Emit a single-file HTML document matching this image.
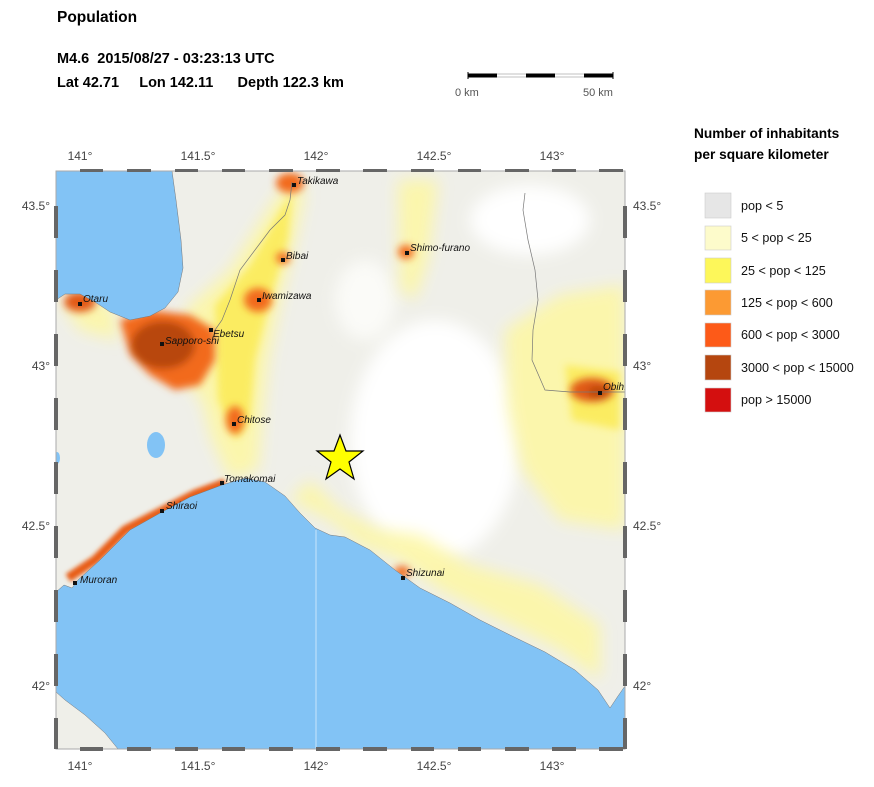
<!DOCTYPE html>
<html><head><meta charset="utf-8"><style>
body{margin:0;background:#fff;width:874px;height:782px;overflow:hidden;font-family:"Liberation Sans",sans-serif}
</style></head><body>
<svg width="874" height="782" viewBox="0 0 874 782" xmlns="http://www.w3.org/2000/svg" font-family="Liberation Sans, sans-serif">
<defs>
<filter id="b4" x="-50%" y="-50%" width="200%" height="200%"><feGaussianBlur stdDeviation="4"/></filter>
<filter id="b8" x="-50%" y="-50%" width="200%" height="200%"><feGaussianBlur stdDeviation="8"/></filter>
<filter id="b2" x="-50%" y="-50%" width="200%" height="200%"><feGaussianBlur stdDeviation="2"/></filter>
<clipPath id="mc"><rect x="56" y="171" width="569" height="578"/></clipPath>
</defs>
<text x="57" y="22" font-size="15.5" font-weight="bold">Population</text>
<text x="57" y="63" font-size="14.5" font-weight="bold" xml:space="preserve">M4.6  2015/08/27 - 03:23:13 UTC</text>
<text x="57" y="87" font-size="14.5" font-weight="bold" xml:space="preserve">Lat 42.71     Lon 142.11      Depth 122.3 km</text>
<g>
<rect x="468" y="74" width="145" height="3" fill="#fff" stroke="#999" stroke-width="0.6"/>
<rect x="468" y="73.5" width="29" height="4" fill="#000"/>
<rect x="526" y="73.5" width="29" height="4" fill="#000"/>
<rect x="584" y="73.5" width="29" height="4" fill="#000"/>
<line x1="468" y1="72" x2="468" y2="79" stroke="#000"/><line x1="613" y1="72" x2="613" y2="79" stroke="#000"/>
<text x="455" y="96" font-size="11" fill="#555">0 km</text>
<text x="583" y="96" font-size="11" fill="#555">50 km</text>
</g>
<g clip-path="url(#mc)">
<rect x="56" y="171" width="569" height="578" fill="#efefe9"/>
<g filter="url(#b8)">
<ellipse cx="435" cy="440" rx="85" ry="120" fill="#fff"/>
<ellipse cx="365" cy="300" rx="30" ry="40" fill="#fbfbf8"/>
<ellipse cx="530" cy="220" rx="60" ry="35" fill="#fff"/>
</g>
<g filter="url(#b8)" fill="#fdf7a6" opacity="0.9">
<path d="M185 310 L230 270 L265 215 L288 180 L305 190 L295 240 L280 300 L268 360 L262 420 L258 470 L230 480 L212 440 L202 400 L185 380 Z"/>
<path d="M398 180 L438 180 L428 260 L415 300 L400 290 Z"/>
<path d="M505 330 L560 295 L625 285 L625 530 L560 520 L522 470 L508 410 Z"/>
<path d="M290 500 L330 520 L360 545 L400 560 L440 590 L500 620 L560 650 L600 680 L600 625 L540 585 L470 565 L420 535 L380 530 L340 510 L310 480 Z"/>
<path d="M60 300 L110 300 L120 340 L80 330 Z"/>
</g>
<g filter="url(#b4)" fill="#fbe94a" opacity="0.75">
<path d="M215 305 L250 265 L278 215 L292 192 L288 240 L270 300 L255 360 L250 420 L236 440 L218 400 Z"/>
<path d="M565 365 L620 372 L620 430 L572 420 Z"/>
</g>
<g filter="url(#b4)">
<path d="M120 320 L150 310 L190 315 L215 330 L215 360 L200 385 L175 390 L150 375 L130 355 Z" fill="#f26b1e"/>
<ellipse cx="163" cy="345" rx="32" ry="24" fill="#b8470f"/>
<ellipse cx="258" cy="300" rx="14" ry="12" fill="#f26b1e"/>
<ellipse cx="235" cy="420" rx="9" ry="14" fill="#f26b1e"/>
<ellipse cx="290" cy="183" rx="14" ry="10" fill="#f26b1e"/>
<ellipse cx="283" cy="258" rx="7" ry="6" fill="#f26b1e"/>
<ellipse cx="80" cy="302" rx="16" ry="10" fill="#e35a17"/>
<ellipse cx="406" cy="252" rx="8" ry="7" fill="#f26b1e"/>
<ellipse cx="592" cy="390" rx="22" ry="12" fill="#e05a16"/>
<ellipse cx="598" cy="392" rx="10" ry="6" fill="#b8470f"/>
<ellipse cx="402" cy="572" rx="8" ry="6" fill="#f26b1e"/>
</g>
<g filter="url(#b2)" fill="none" stroke="#e85d18" stroke-width="9">
<path d="M68 578 L95 560 L125 530 L160 512 L195 494 L225 483"/>
</g>
<path d="M56 171 L172 171 L176 200 L181 240 L183 268 L178 292 L165 308 L150 316 L130 320 L110 312 L95 302 L80 294 L65 294 L56 300 Z" fill="#82c3f5" stroke="#777" stroke-width="0.5"/>
<path d="M56 592 L64 585 L72 588 L78 580 L100 560 L130 530 L162 512 L190 497 L222 485 L245 478 L265 482 L285 496 L300 513 L315 528 L330 535 L345 537 L370 550 L395 570 L420 588 L450 603 L480 620 L510 635 L545 652 L575 670 L598 690 L610 708 L618 696 L625 686 L625 749 L118 749 L105 733 L85 715 L65 700 L56 692 Z" fill="#82c3f5" stroke="#777" stroke-width="0.5"/>
<line x1="316" y1="530" x2="316" y2="749" stroke="#c8e4fa" stroke-width="1"/>
<ellipse cx="156" cy="445" rx="9" ry="13" fill="#82c3f5"/>
<ellipse cx="57" cy="458" rx="3" ry="6" fill="#82c3f5"/>
<path d="M292 182 L290 200 L285 215 L270 230 L255 250 L240 270 L230 300 L222 320 L215 330" fill="none" stroke="#777" stroke-width="0.7"/>
<path d="M525 193 L523 210 L528 240 L535 270 L538 300 L533 330 L532 360 L545 390 L570 392 L598 392 L625 392" fill="none" stroke="#777" stroke-width="0.7"/>
<g font-size="10" font-style="italic" fill="#111">
<rect x="292" y="183" width="4" height="4"/><text x="297" y="184">Takikawa</text>
<rect x="281" y="258" width="4" height="4"/><text x="286" y="259">Bibai</text>
<rect x="257" y="298" width="4" height="4"/><text x="262" y="299">Iwamizawa</text>
<rect x="78" y="302" width="4" height="4"/><text x="83" y="302">Otaru</text>
<rect x="209" y="328" width="4" height="4"/><text x="213" y="337">Ebetsu</text>
<rect x="160" y="342" width="4" height="4"/><text x="165" y="344">Sapporo-shi</text>
<rect x="232" y="422" width="4" height="4"/><text x="237" y="423">Chitose</text>
<rect x="220" y="481" width="4" height="4"/><text x="224" y="482">Tomakomai</text>
<rect x="160" y="509" width="4" height="4"/><text x="166" y="509">Shiraoi</text>
<rect x="73" y="581" width="4" height="4"/><text x="80" y="583">Muroran</text>
<rect x="401" y="576" width="4" height="4"/><text x="406" y="576">Shizunai</text>
<rect x="405" y="251" width="4" height="4"/><text x="410" y="251">Shimo-furano</text>
<rect x="598" y="391" width="4" height="4"/><text x="603" y="390">Obihiro</text>
</g>
<polygon points="340,435 346,451 363,451 349,462 354,479 340,469 326,479 331,462 317,451 334,451" fill="#ffff00" stroke="#000" stroke-width="1.2"/>
</g>
<rect x="56" y="171" width="569" height="578" fill="none" stroke="#aaa" stroke-width="1"/>
<g fill="#666">
<rect x="80" y="169" width="23" height="3"/><rect x="127" y="169" width="24" height="3"/><rect x="175" y="169" width="23" height="3"/><rect x="222" y="169" width="23" height="3"/><rect x="269" y="169" width="24" height="3"/><rect x="316" y="169" width="24" height="3"/><rect x="363" y="169" width="24" height="3"/><rect x="411" y="169" width="23" height="3"/><rect x="458" y="169" width="23" height="3"/><rect x="505" y="169" width="24" height="3"/><rect x="552" y="169" width="24" height="3"/><rect x="599" y="169" width="24" height="3"/>
<rect x="80" y="747" width="23" height="4"/><rect x="127" y="747" width="24" height="4"/><rect x="175" y="747" width="23" height="4"/><rect x="222" y="747" width="23" height="4"/><rect x="269" y="747" width="24" height="4"/><rect x="316" y="747" width="24" height="4"/><rect x="363" y="747" width="24" height="4"/><rect x="411" y="747" width="23" height="4"/><rect x="458" y="747" width="23" height="4"/><rect x="505" y="747" width="24" height="4"/><rect x="552" y="747" width="24" height="4"/><rect x="599" y="747" width="24" height="4"/>
<rect x="54" y="206" width="4" height="32"/><rect x="54" y="270" width="4" height="32"/><rect x="54" y="334" width="4" height="32"/><rect x="54" y="398" width="4" height="32"/><rect x="54" y="462" width="4" height="32"/><rect x="54" y="526" width="4" height="32"/><rect x="54" y="590" width="4" height="32"/><rect x="54" y="654" width="4" height="32"/><rect x="54" y="718" width="4" height="31"/>
<rect x="623" y="206" width="4" height="32"/><rect x="623" y="270" width="4" height="32"/><rect x="623" y="334" width="4" height="32"/><rect x="623" y="398" width="4" height="32"/><rect x="623" y="462" width="4" height="32"/><rect x="623" y="526" width="4" height="32"/><rect x="623" y="590" width="4" height="32"/><rect x="623" y="654" width="4" height="32"/><rect x="623" y="718" width="4" height="31"/>
</g>
<g font-size="12" fill="#444" text-anchor="middle">
<text x="80" y="160">141°</text><text x="198" y="160">141.5°</text><text x="316" y="160">142°</text><text x="434" y="160">142.5°</text><text x="552" y="160">143°</text>
<text x="80" y="770">141°</text><text x="198" y="770">141.5°</text><text x="316" y="770">142°</text><text x="434" y="770">142.5°</text><text x="552" y="770">143°</text>
</g>
<g font-size="12" fill="#444">
<text x="50" y="210" text-anchor="end">43.5°</text><text x="50" y="370" text-anchor="end">43°</text><text x="50" y="530" text-anchor="end">42.5°</text><text x="50" y="690" text-anchor="end">42°</text>
<text x="633" y="210">43.5°</text><text x="633" y="370">43°</text><text x="633" y="530">42.5°</text><text x="633" y="690">42°</text>
</g>
<text x="694" y="138" font-size="13.7" font-weight="bold">Number of inhabitants</text>
<text x="694" y="159" font-size="13.7" font-weight="bold">per square kilometer</text>
<g stroke="#ccc" stroke-width="0.6">
<rect x="705" y="193" width="26" height="25" fill="#e6e6e6"/>
<rect x="705" y="226" width="26" height="24" fill="#fdfbcb"/>
<rect x="705" y="258" width="26" height="25" fill="#fdf75a"/>
<rect x="705" y="290" width="26" height="25" fill="#fc9a33"/>
<rect x="705" y="323" width="26" height="24" fill="#fd5a18"/>
<rect x="705" y="355" width="26" height="25" fill="#b5460f"/>
<rect x="705" y="388" width="26" height="24" fill="#d40f0f"/>
</g>
<g font-size="12.6" fill="#111">
<text x="741" y="210">pop &lt; 5</text>
<text x="741" y="242">5 &lt; pop &lt; 25</text>
<text x="741" y="275">25 &lt; pop &lt; 125</text>
<text x="741" y="307">125 &lt; pop &lt; 600</text>
<text x="741" y="339">600 &lt; pop &lt; 3000</text>
<text x="741" y="372">3000 &lt; pop &lt; 15000</text>
<text x="741" y="404">pop &gt; 15000</text>
</g>
</svg>
</body></html>
